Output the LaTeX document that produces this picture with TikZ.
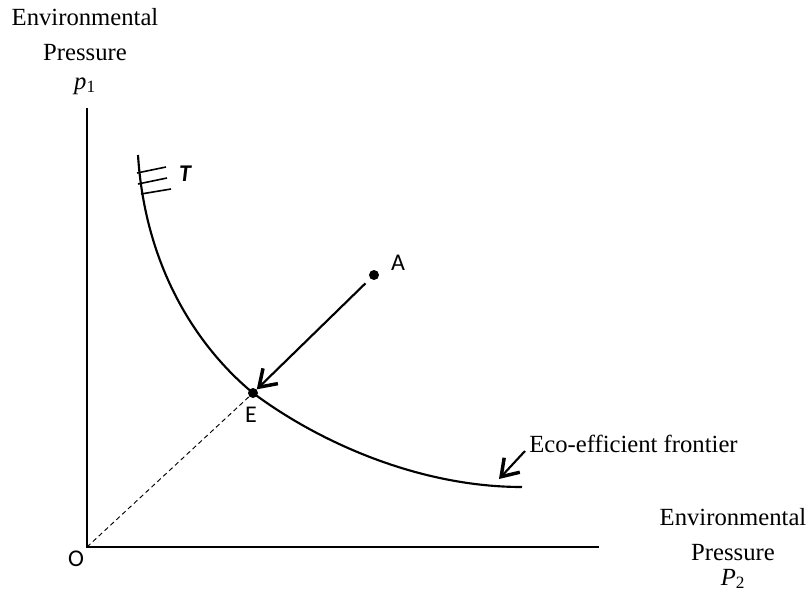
\documentclass[tikz,border=0pt]{standalone}
\usepackage{fontspec}
\setmainfont{Liberation Serif}
\newfontfamily\calfont{Carlito}
\usetikzlibrary{arrows.meta, positioning, calc}

\begin{document}
\begin{tikzpicture}[
    x=0.75pt, y=-0.75pt,
    axis/.style={line width=0.8pt},
    frontier/.style={line width=1.6pt},
    hatch/.style={line width=1.2pt},
    guide/.style={line width=0.7pt, dash pattern=on 3.5pt off 2.5pt},
    move/.style={line width=1.6pt,
                 -{Straight Barb[length=12pt, width=16pt, line width=2.6pt]}},
    dot/.style={circle, fill=black, inner sep=0pt, minimum size=7.5pt},
    ptlabel/.style={font=\calfont\fontsize{18}{20}\selectfont, inner sep=0pt},
    axlabel/.style={font=\fontsize{18.5}{26}\selectfont, align=center,
                    inner sep=0pt}
  ]
  \useasboundingbox (0,0) rectangle (808,594);

  % axes
  \coordinate (O) at (87,547);
  \coordinate (ytop) at (87,108);
  \coordinate (xend) at (599,547);
  \draw[axis] (ytop) -- (O) -- (xend);
  \node[ptlabel] (olabel) at (76,559) {O};

  \node[axlabel, anchor=north] (ylab) at (85,8)
    {Environmental\\Pressure\\[-4pt]\textit{p}\textsubscript{1}};
  \node[axlabel, anchor=north] (xlab) at (733,508)
    {Environmental\\Pressure\\[-7pt]\textit{P}\textsubscript{2}};

  % frontier
  \draw[frontier] (138,155) .. controls (145,265) and (195,345) .. (253,393)
                            .. controls (320,443) and (420,487) .. (522,487);

  % hatches
  \draw[hatch] (137,173) -- (166,167);
  \draw[hatch] (138,184) -- (167,178);
  \draw[hatch] (141,194) -- (171,189);
  \node[ptlabel, font=\calfont\bfseries\itshape\fontsize{18}{20}\selectfont]
    (tlab) at (185,174) {T};

  % points
  \node[dot] (E) at (253,393) {};
  \node[dot] (A) at (374,275) {};
  \node[ptlabel] (alab) at (398,263) {A};
  \node[ptlabel] (elab) at (251,415) {E};

  \draw[guide] (O) -- (E);
  \draw[move, shorten <=5pt] (A) -- (E);

  % frontier label
  \node[axlabel, anchor=base west] (eco) at (529,452) {Eco-efficient frontier};
  \coordinate (ecofrom) at (525,451);
  \coordinate (ecotip) at (499,479);
  \draw[move] (ecofrom) -- (ecotip);
\end{tikzpicture}
\end{document}
